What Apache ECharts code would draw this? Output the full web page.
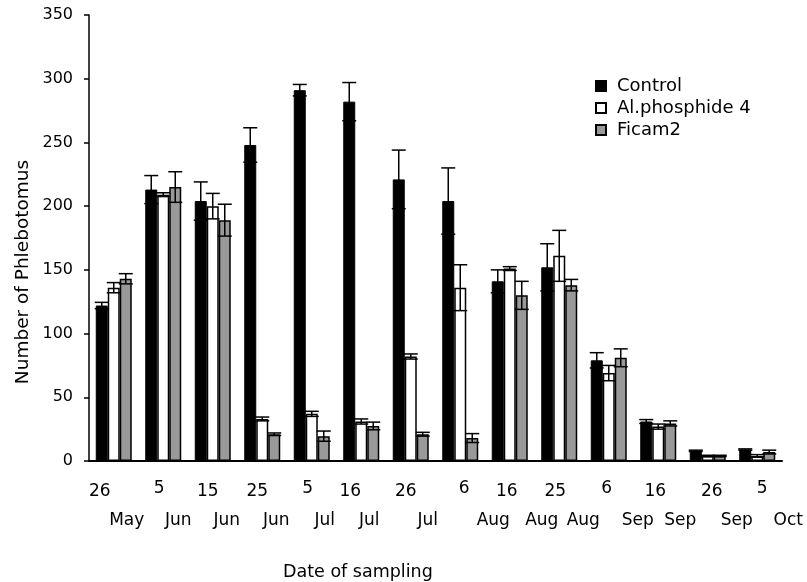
<!DOCTYPE html>
<html>
<head>
<meta charset="utf-8">
<script src="https://cdn.jsdelivr.net/npm/echarts@6/dist/echarts.min.js"></script>
<style>
html,body{margin:0;padding:0;background:#fff;}
#chart{width:807px;height:582px;}
</style>
</head>
<body>
<div id="chart"></div>
<script>
// ---- data ----
const categories = ['26 May','5 Jun','15 Jun','25 Jun','5 Jul','16 Jul','26 Jul','6 Aug','16 Aug','25 Aug','6 Sep','16 Sep','26 Sep','5 Oct'];
const dayLabels = ['26','5','15','25','5','16','26','6','16','25','6','16','26','5'];
const monthLabels = ['May','Jun','Jun','Jun','Jul','Jul','Jul','Aug','Aug','Aug','Sep','Sep','Sep','Oct'];
const seriesNames = ['Control','Al.phosphide 4','Ficam2'];
const control    = [122, 213, 204, 248, 291, 282, 221, 204, 141, 152, 79, 31, 8, 9];
const controlErr = [2.5, 11, 15, 13.5, 4.5, 15, 23, 26, 9, 18.5, 6, 1.5, 0.5, 0.5];
const alp        = [136, 209, 200, 33, 37, 31, 82, 136, 151, 161, 69, 27, 4, 4];
const alpErr     = [4, 1.5, 10, 1.5, 2, 2, 2, 18, 1.5, 20, 6, 2, 0.5, 1];
const ficam      = [143, 215, 189, 21, 19.5, 27.5, 21, 18, 130, 138, 81, 29.5, 4, 7];
const ficamErr   = [4, 12, 12.5, 1, 4, 3, 1.5, 3.5, 11, 4.5, 7, 2, 0.5, 1.5];
const yTicks = {min: 0, max: 350, interval: 50};

// ---- layout (not data) ----
const FONT = 'DejaVu Sans';
const BAR_W = 12;
const dayOffsets   = [-14, -4, -5, -5, -4, -11, -5, 4, -3, -4, -2, -3, 4, 5];
const monthOffsets = [13, 15, 14, 14, 13, 8, 17, 33, 32, 24, 29, 22, 29, 31];

const chart = echarts.init(document.getElementById('chart'));

function barSeries(name, vals, color, bw) {
  return {
    name: name, type: 'bar', data: vals, barWidth: BAR_W, barGap: '0%',
    itemStyle: {color: color, borderColor: '#000', borderWidth: bw},
    z: 2
  };
}
function errSeries(k, vals, errs) {
  return {
    type: 'custom', name: 'err' + k, z: 5, silent: true,
    data: vals.map((v, i) => [i, v, errs[i]]),
    renderItem: function (params, api) {
      const i = api.value(0), v = api.value(1), e = api.value(2);
      const hi = api.coord([i, v + e]);
      const lo = api.coord([i, v - e]);
      const x = hi[0] + (k - 1) * BAR_W;
      const c = 7;
      const st = {stroke: '#000', lineWidth: 1.5};
      return {type: 'group', children: [
        {type: 'line', shape: {x1: x, y1: hi[1], x2: x, y2: lo[1]}, style: st},
        {type: 'line', shape: {x1: x - c, y1: hi[1], x2: x + c, y2: hi[1]}, style: st},
        {type: 'line', shape: {x1: x - c, y1: lo[1], x2: x + c, y2: lo[1]}, style: st}
      ]};
    }
  };
}

chart.setOption({
  animation: false,
  backgroundColor: '#fff',
  grid: {left: 89, right: 25, top: 15, bottom: 121, containLabel: false},
  legend: {
    data: seriesNames, orient: 'vertical', left: 595, top: 77, padding: 0,
    icon: 'rect', itemWidth: 10, itemHeight: 10, itemGap: 4,
    textStyle: {fontFamily: FONT, fontSize: 18, color: '#000', padding: [0, 0, 0, 6], lineHeight: 18}
  },
  xAxis: {
    type: 'category', data: categories,
    axisLine: {lineStyle: {color: '#000', width: 2}},
    axisTick: {show: false},
    axisLabel: {show: false},
    splitLine: {show: false}
  },
  yAxis: {
    type: 'value', min: yTicks.min, max: yTicks.max, interval: yTicks.interval,
    axisLine: {show: true, lineStyle: {color: '#000', width: 1.5}},
    axisTick: {show: true, inside: false, length: 5, lineStyle: {color: '#000', width: 1.5}},
    axisLabel: {fontFamily: FONT, fontSize: 16, color: '#000', margin: 16},
    splitLine: {show: false}
  },
  series: [
    barSeries(seriesNames[0], control, '#000000', 1),
    barSeries(seriesNames[1], alp, '#ffffff', 1.5),
    barSeries(seriesNames[2], ficam, '#999999', 1.5),
    errSeries(0, control, controlErr),
    errSeries(1, alp, alpErr),
    errSeries(2, ficam, ficamErr)
  ]
});

const g = [];
categories.forEach((c, i) => {
  const cx = chart.convertToPixel({xAxisIndex: 0}, i);
  g.push({type: 'text', x: cx + dayOffsets[i], y: dayLabels[i].length === 1 ? 489 : 492,
    style: {text: dayLabels[i], font: '17px "' + FONT + '"', fill: '#000', align: 'center', verticalAlign: 'middle'}});
  g.push({type: 'text', x: cx + monthOffsets[i], y: 521,
    style: {text: monthLabels[i], font: '17px "' + FONT + '"', fill: '#000', align: 'center', verticalAlign: 'middle'}});
});
g.push({type: 'text', x: 283, y: 572,
  style: {text: 'Date of sampling', font: '17.5px "' + FONT + '"', fill: '#000', align: 'left', verticalAlign: 'middle'}});
g.push({type: 'text', x: 23, y: 272, rotation: Math.PI / 2,
  style: {text: 'Number of Phlebotomus', font: '18.5px "' + FONT + '"', fill: '#000', align: 'center', verticalAlign: 'middle'}});
chart.setOption({graphic: g});
</script>
</body>
</html>
